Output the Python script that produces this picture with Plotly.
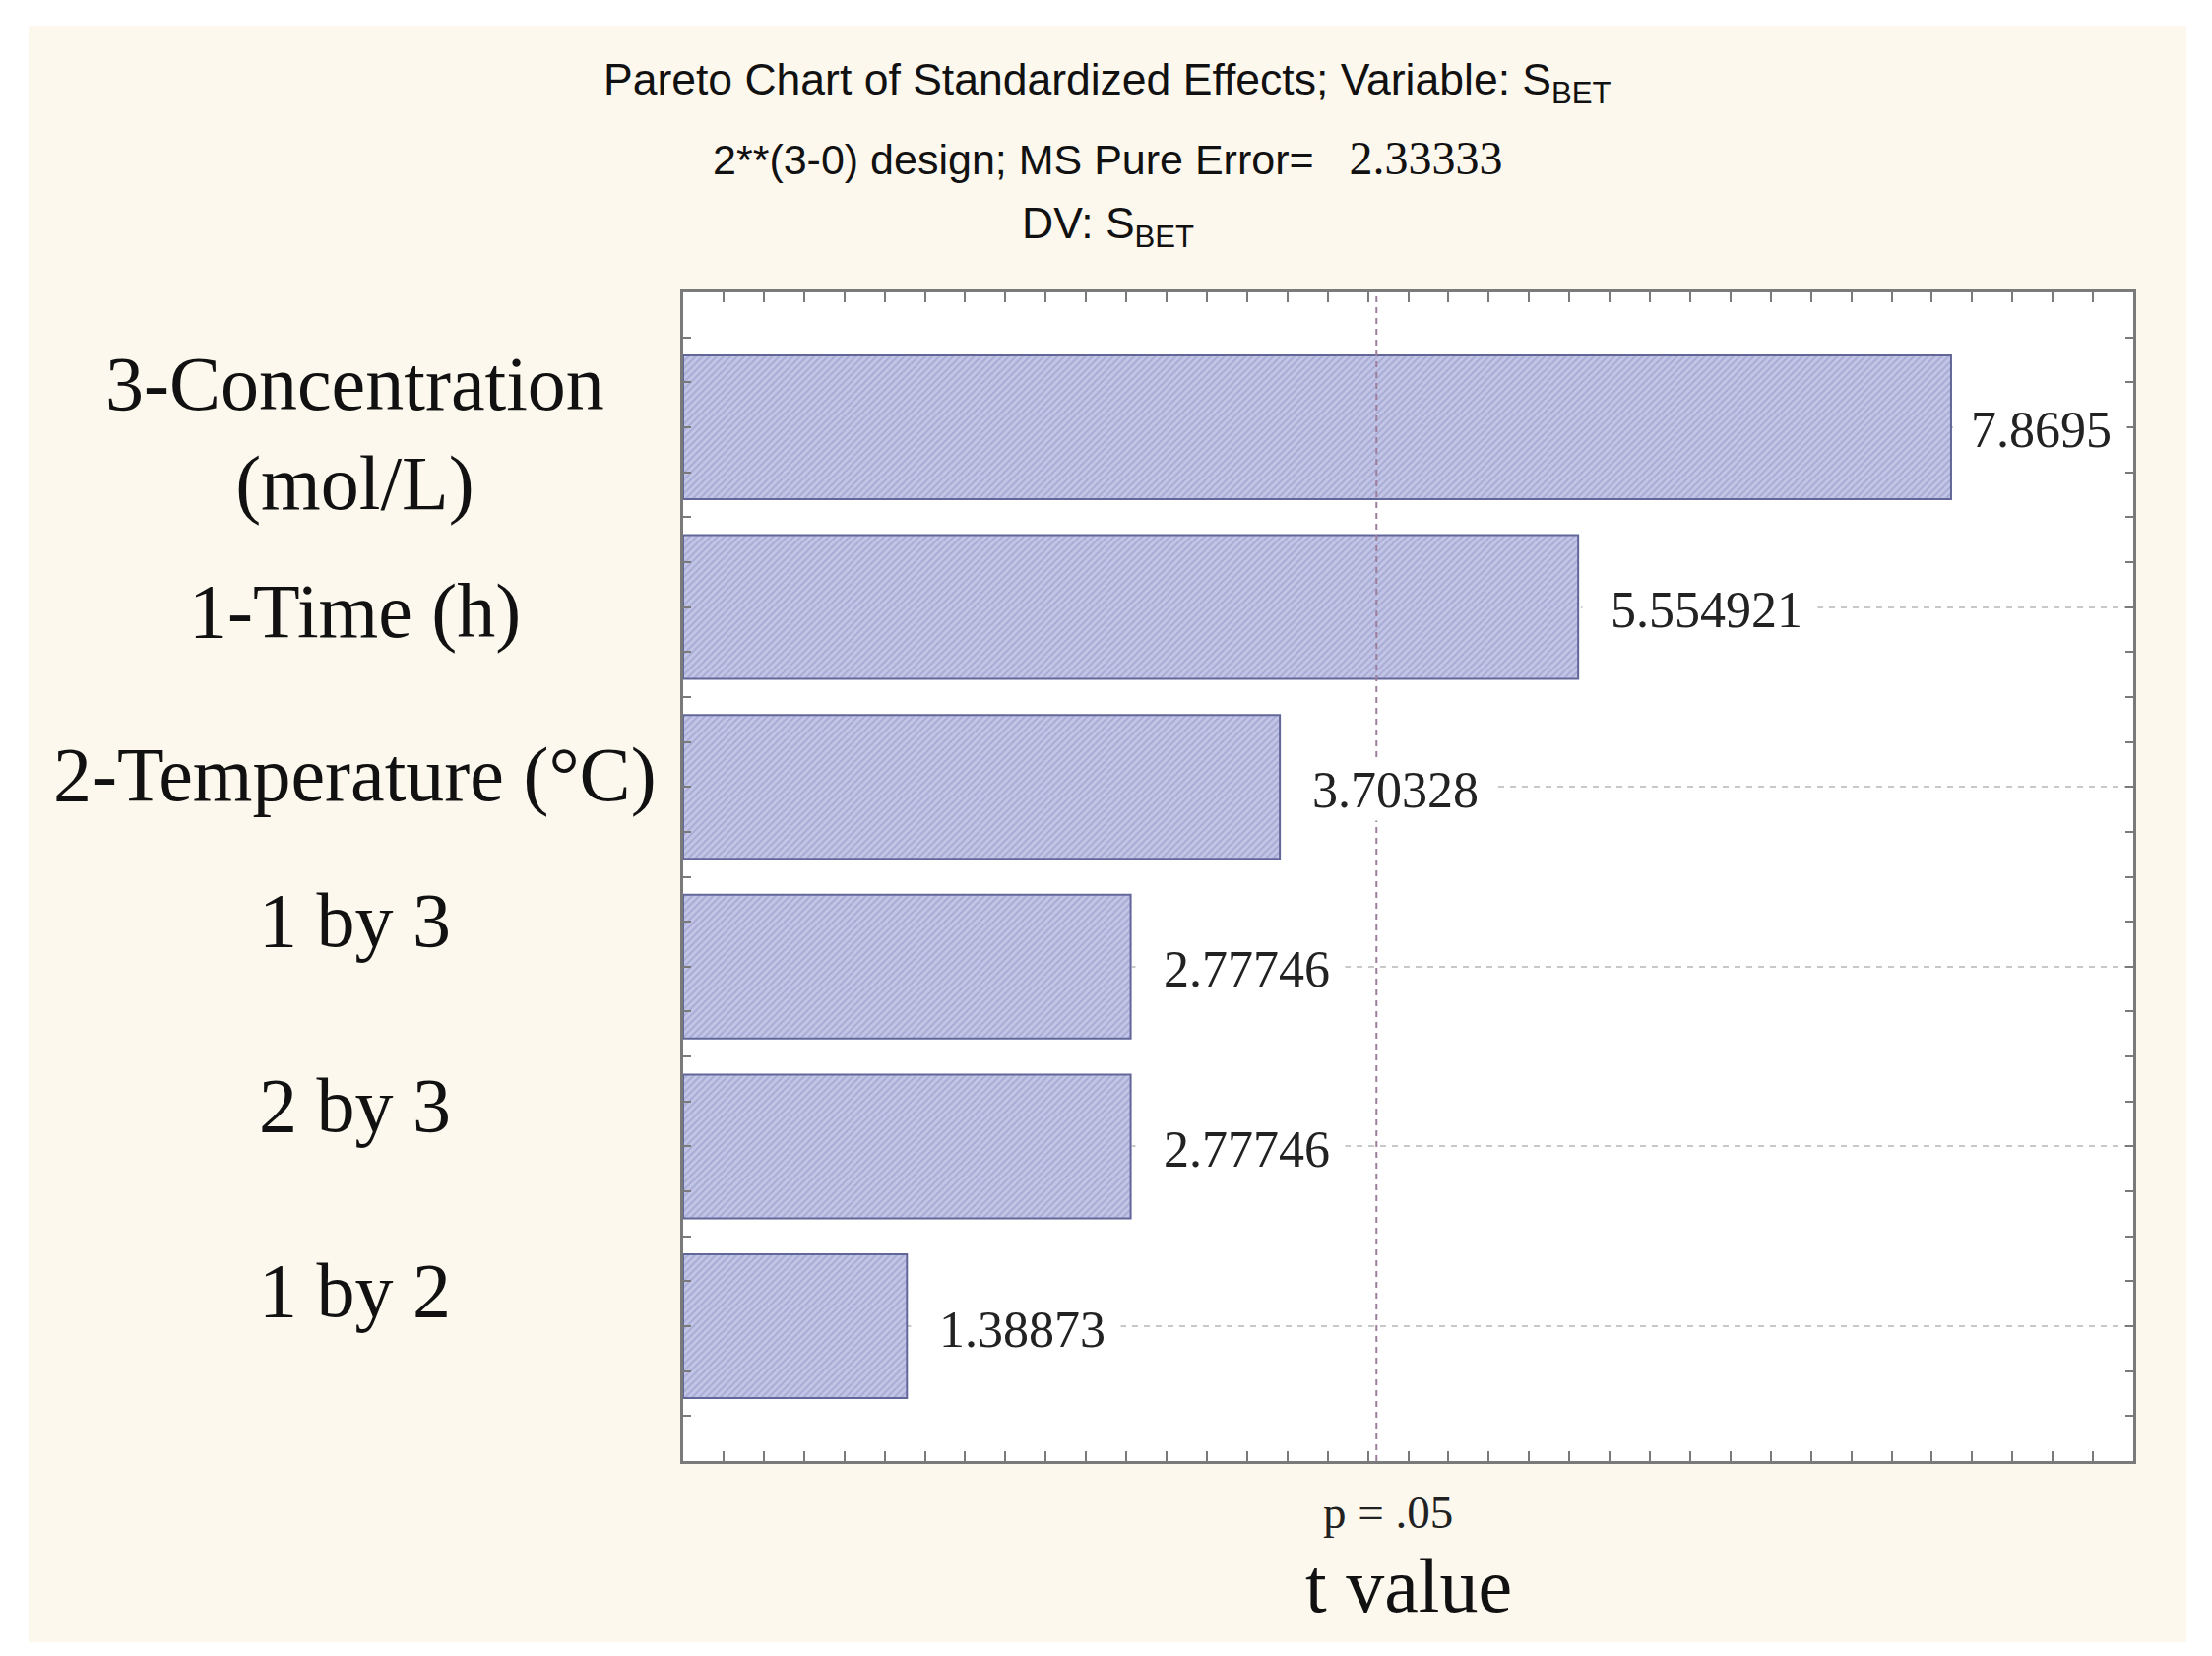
import plotly.graph_objects as go

# ---- data ----
categories = ["3-Concentration<br>(mol/L)", "1-Time (h)", "2-Temperature (°C)",
              "1 by 3", "2 by 3", "1 by 2"]
t_values = [7.8695, 5.554921, 3.70328, 2.77746, 2.77746, 1.38873]
value_labels = ["7.8695", "5.554921", "3.70328", "2.77746", "2.77746", "1.38873"]
p_critical = 4.303
x_range = [0, 9]

# ---- layout geometry (reference pixels; page body adds an 8px offset) ----
OFF = 8
W, H = 2247 - 2 * OFF, 1682 - 2 * OFF
PLOT_L, PLOT_R, PLOT_T, PLOT_B = 694, 2167, 297, 1484   # in reference pixels
ML = PLOT_L - OFF
MT = PLOT_T - OFF
MR = W - (PLOT_R - OFF)
MB = H - (PLOT_B - OFF)
PW, PH = PLOT_R - PLOT_L, PLOT_B - PLOT_T


def px_x(px):
    return (px - PLOT_L) / PW


def px_y(py):
    return (PLOT_B - py) / PH


SERIF = "Liberation Serif"
SANS = "Liberation Sans"
positions = list(range(len(categories)))

fig = go.Figure()
fig.add_trace(go.Bar(
    x=t_values, y=positions, orientation="h", width=0.8,
    marker=dict(color="#bcbfe2",
                line=dict(color="#62679a", width=2),
                pattern=dict(shape="/", fgcolor="#8a8ec0", bgcolor="#c2c5e6",
                             size=5, solidity=0.35)),
    showlegend=False, hoverinfo="skip",
))

shapes = [
    dict(type="rect", xref="paper", yref="paper", layer="below",
         x0=px_x(29), x1=px_x(2221), y0=px_y(1668), y1=px_y(26),
         fillcolor="#fcf8ee", line=dict(width=0)),
    dict(type="rect", xref="paper", yref="paper", layer="below",
         x0=0, x1=1, y0=0, y1=1, fillcolor="white", line=dict(width=0)),
    dict(type="line", xref="x", yref="paper", x0=p_critical, x1=p_critical,
         y0=0, y1=1, line=dict(color="#9c7f9c", width=2, dash="6px,5px")),
]

annotations = []
cat_shifts = [-6, -4, 13, 47, 42, 37]
for pos, cat, sh in zip(positions, categories, cat_shifts):
    annotations.append(dict(
        xref="paper", yref="y", x=px_x(360), y=pos, yshift=sh,
        text=cat, showarrow=False, xanchor="center", yanchor="middle",
        align="center", font=dict(family=SERIF, size=78, color="#111111")))

label_pad = [1, 2, 2, 2, 2, 2]
for pos, v, lab, npad in zip(positions, t_values, value_labels, label_pad):
    annotations.append(dict(
        xref="x", yref="y", x=v, y=pos, xshift=4, yshift=-3,
        text="\u00a0" * npad + lab + "\u00a0", showarrow=False,
        xanchor="left", yanchor="middle", bgcolor="white", borderpad=2,
        font=dict(family=SERIF, size=52, color="#222222")))

title_font = dict(family=SANS, size=43, color="#111111")
annotations += [
    dict(xref="paper", yref="paper", x=px_x(1125), y=px_y(84),
         text="Pareto Chart of Standardized Effects; Variable: S<sub>BET</sub>",
         showarrow=False, xanchor="center", yanchor="middle",
         font=dict(family=SANS, size=44.5, color="#111111")),
    dict(xref="paper", yref="paper", x=px_x(1125), y=px_y(161),
         text="2**(3-0) design; MS Pure Error=\u00a0\u00a0\u00a0"
              "<span style='font-family:Liberation Serif;font-size:48px'>2.33333</span>",
         showarrow=False, xanchor="center", yanchor="middle", font=title_font),
    dict(xref="paper", yref="paper", x=px_x(1125), y=px_y(230),
         text="DV: S<sub>BET</sub>",
         showarrow=False, xanchor="center", yanchor="middle",
         font=dict(family=SANS, size=44.5, color="#111111")),
    dict(xref="x", yref="paper", x=p_critical, y=px_y(1536), xshift=12,
         text="p = .05", showarrow=False, xanchor="center", yanchor="middle",
         font=dict(family=SERIF, size=47, color="#222222")),
    dict(xref="paper", yref="paper", x=0.5, y=px_y(1610),
         text="t value", showarrow=False, xanchor="center", yanchor="middle",
         font=dict(family=SERIF, size=78, color="#111111")),
]

axis_line = "#7a7a7a"
fig.update_layout(
    width=W, height=H,
    margin=dict(l=ML, r=MR, t=MT, b=MB, pad=0),
    paper_bgcolor="white", plot_bgcolor="rgba(0,0,0,0)",
    shapes=shapes, annotations=annotations, bargap=0.2,
    xaxis=dict(range=x_range, dtick=0.25, tick0=0, showticklabels=False,
               ticks="inside", ticklen=10, tickwidth=2, tickcolor=axis_line,
               showline=True, linecolor=axis_line, linewidth=3, mirror="ticks",
               showgrid=False, zeroline=False, fixedrange=True),
    yaxis=dict(range=[5.75, -0.75], dtick=1, tick0=0, showticklabels=False,
               ticks="inside", ticklen=8, tickwidth=2, tickcolor=axis_line,
               showline=True, linecolor=axis_line, linewidth=3, mirror="ticks",
               showgrid=True, gridcolor="#c8c8c8", gridwidth=2, griddash="6px,6px",
               zeroline=False, fixedrange=True,
               minor=dict(dtick=0.25, tick0=0, ticks="inside", ticklen=8,
                          tickwidth=2, tickcolor=axis_line, showgrid=False)),
)

fig.write_html("out.html")
